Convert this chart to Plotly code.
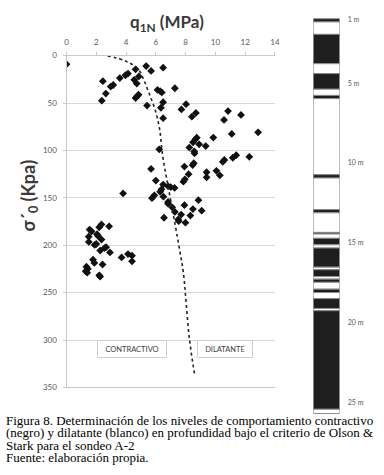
import plotly.graph_objects as go

# ---------------- data ----------------
q1n = [0.0, 2.44, 2.64, 2.37, 2.97, 3.14, 3.58, 3.96, 4.13, 4.64, 4.55, 4.72, 4.86,
       4.64, 4.73, 4.84, 5.35, 5.68, 6.49, 5.41, 6.11, 6.29, 6.40, 7.28, 6.49, 6.34, 6.49,
       7.72, 8.03, 8.42, 8.69, 10.58, 10.85, 11.72, 11.1, 12.87, 9.86,
       8.25, 8.5, 8.65, 8.75, 8.91, 9.35, 8.58, 8.6, 7.92, 8.2, 8.47, 8.55, 7.85, 7.95,
       9.41, 9.41, 10.07, 10.3, 10.5, 10.6, 11.17, 11.4, 12.28,
       6.23, 5.68, 6.0, 6.49, 6.82, 7.0, 7.26, 6.38, 6.29, 5.9, 5.74, 6.51,
       6.82, 6.82, 7.1, 7.28, 7.7, 7.5, 7.54, 6.55, 7.99, 7.92, 8.32, 8.49, 8.86, 9.08,
       3.8,
       1.55, 1.68, 2.2, 2.35, 2.86, 1.49, 2.05, 2.11, 2.35, 1.5, 1.89, 2.0,
       2.26, 2.55, 2.66, 2.92, 1.78, 1.87, 2.42, 1.34, 1.43, 1.29, 1.39, 2.2, 2.26,
       3.7, 4.13, 4.4, 4.4]
sigma = [9, 27, 40, 47.5, 32.7, 31, 23.7, 20.7, 18.9, 14.5, 25.5, 29.5, 22,
         44.7, 43, 41.3, 11, 16.1, 12.7, 52.7, 36.2, 37.5, 38.8, 34.4, 49.2, 55, 66,
         56.8, 51.2, 64.4, 60.5, 67.8, 58.5, 62.6, 82.6, 80.9, 86.4,
         97, 91.5, 88.5, 86.5, 93.6, 95.4, 101, 103, 117, 125, 115.5, 113.5, 133, 130.5,
         123, 128.4, 121.5, 126.3, 112, 110, 107.7, 105, 106.7,
         98.8, 119.5, 131.8, 136, 137.7, 138.7, 139.5, 141, 143.6, 147.3, 150.4, 148.8,
         154.3, 156.2, 160, 164.9, 167.7, 172.8, 174.6, 171, 176.2, 157.7, 168.7, 161.8, 152.5, 163.5,
         145.3,
         183.5, 185.5, 181, 178, 180, 191, 188.3, 190, 194, 196.5, 199.7, 198.7,
         205.6, 203, 202, 207.6, 215.2, 218.6, 220.3, 222.7, 224.8, 227.3, 228.9, 231.7, 233,
         212.8, 209.3, 211, 217]

# Olson & Stark boundary (dotted)
bound_q = [2.75, 4.0, 4.8, 5.2, 5.55, 5.95, 6.25, 6.45, 6.85, 7.6, 7.85, 8.25, 8.6]
bound_s = [0, 6, 14, 26, 40, 57, 77, 105, 140, 205, 229, 298, 336]

# stratigraphic column (depth m): top, bottom, behaviour (1 = contractive / black)
layer_top = [0.95, 1.15, 1.93, 3.77, 4.39, 5.37, 5.76, 5.96, 10.73, 10.94, 12.92, 13.12,
             14.35, 14.45, 14.72, 15.13, 15.33, 16.53, 16.69, 17.12, 17.28, 17.48,
             17.91, 18.12, 18.5, 19.12, 19.26, 25.44]
layer_bot = [1.15, 1.93, 3.77, 4.39, 5.37, 5.76, 5.96, 10.73, 10.94, 12.92, 13.12, 14.35,
             14.45, 14.72, 15.13, 15.33, 16.53, 16.69, 17.12, 17.28, 17.48, 17.91,
             18.12, 18.5, 19.12, 19.26, 25.44, 25.71]
layer_black = [1, 0, 1, 0, 1, 0, 1, 0, 1, 0, 1, 0, 1, 0, 1, 0, 1, 0, 1, 0, 1, 0,
               1, 0, 1, 0, 1, 0]
depth_ticks = [1, 5, 10, 15, 20, 25]
depth_labels = ["1 m", "5 m", "10 m", "15 m", "20 m", "25 m"]

x_ticks = [0, 2, 4, 6, 8, 10, 12, 14]
y_ticks = [0, 50, 100, 150, 200, 250, 300, 350]

caption = ["Figura 8. Determinación de los niveles de comportamiento contractivo",
           "(negro) y dilatante (blanco) en profundidad bajo el criterio de Olson &",
           "Stark para el sondeo A-2",
           "Fuente: elaboración propia."]

# ---------------- figure ----------------
W, H = 384, 475
FONT = "Lato"
fig = go.Figure()

fig.add_trace(go.Scatter(x=q1n, y=sigma, mode="markers",
                         marker=dict(symbol="diamond", size=6, color="#111111"),
                         showlegend=False, hoverinfo="skip"))
fig.add_trace(go.Scatter(x=bound_q, y=bound_s, mode="lines",
                         line=dict(color="#222222", width=1.6, dash="dot", shape="spline"),
                         showlegend=False, hoverinfo="skip"))

thick = [b - t for t, b in zip(layer_top, layer_bot)]
colors = ["#1e1e1e" if k else "#ffffff" for k in layer_black]
fig.add_trace(go.Bar(x=[0.5] * len(thick), y=thick, base=layer_top, width=1,
                     marker=dict(color=colors, line=dict(color="#8a8a8a", width=1)),
                     xaxis="x2", yaxis="y2", showlegend=False, hoverinfo="skip"))


def px_x(p):
    return p / W


def px_y(p):
    return 1 - p / H


fig.update_layout(
    width=W, height=H,
    margin=dict(l=0, r=0, t=0, b=0),
    paper_bgcolor="white", plot_bgcolor="white",
    barmode="overlay",
    font=dict(family=FONT, color="#595959"),
    xaxis=dict(domain=[px_x(65.7), px_x(278)], range=[0, 14], side="top",
               tickvals=x_ticks, tickfont=dict(size=8, color="#595959"),
               showgrid=False, zeroline=False,
               showline=True, linecolor="#c8c8c8", linewidth=1, mirror=True,
               ticks="outside", ticklen=3, tickcolor="#c8c8c8", ticklabelstandoff=3),
    yaxis=dict(domain=[px_y(390.7), px_y(51.7)], range=[350, 0],
               tickvals=y_ticks, tickfont=dict(size=8, color="#595959"),
               showgrid=True, gridcolor="#d9d9d9", gridwidth=1, zeroline=False,
               showline=True, linecolor="#c8c8c8", linewidth=1,
               ticks="outside", ticklen=3, tickcolor="#c8c8c8", ticklabelstandoff=4),
    xaxis2=dict(domain=[px_x(317), px_x(344)], range=[0, 1], anchor="y2",
                visible=False),
    yaxis2=dict(domain=[0, 1], range=[29.25, 0.089], anchor="x2", side="right",
                tickvals=depth_ticks, ticktext=depth_labels, showgrid=False,
                zeroline=False, showline=False, ticks="",
                tickfont=dict(size=7, color="#595959"), ticklabelstandoff=7),
)

ann = []
ann.append(dict(text="<b>q<sub>1N</sub> (MPa)</b>", xref="paper", yref="paper",
                x=px_x(168), y=px_y(18), xanchor="center", yanchor="middle",
                showarrow=False, font=dict(size=17, color="#3a3a3a", family=FONT)))
ann.append(dict(text="<b>σ´<sub>0</sub> (Kpa)</b>", xref="paper", yref="paper",
                x=px_x(28), y=px_y(194), xanchor="center", yanchor="middle",
                textangle=-90, showarrow=False,
                font=dict(size=18, color="#3a3a3a", family=FONT)))
ann.append(dict(text="CONTRACTIVO", xref="x", yref="y", x=4.43, y=309.5,
                showarrow=False, width=68, height=16, bgcolor="white",
                bordercolor="#d0d0d0", borderwidth=1, borderpad=0,
                font=dict(size=7.5, color="#404040", family=FONT)))
ann.append(dict(text="DILATANTE", xref="x", yref="y", x=10.63, y=309.5,
                showarrow=False, width=54, height=16, bgcolor="white",
                bordercolor="#d0d0d0", borderwidth=1, borderpad=0,
                font=dict(size=7.5, color="#404040", family=FONT)))
cap_y = [424.5, 437, 449.5, 462]
for line, yy in zip(caption, cap_y):
    ann.append(dict(text=line, xref="paper", yref="paper", x=px_x(4), y=px_y(yy),
                    xanchor="left", yanchor="middle", showarrow=False,
                    borderpad=0, borderwidth=0,
                    font=dict(size=13, color="#000000", family="Liberation Serif")))
fig.update_layout(annotations=ann)

fig.write_html("out.html",
               config={"displayModeBar": False, "staticPlot": True},
               post_script="document.body.style.margin='0';"
                           "document.body.style.overflow='hidden';")
